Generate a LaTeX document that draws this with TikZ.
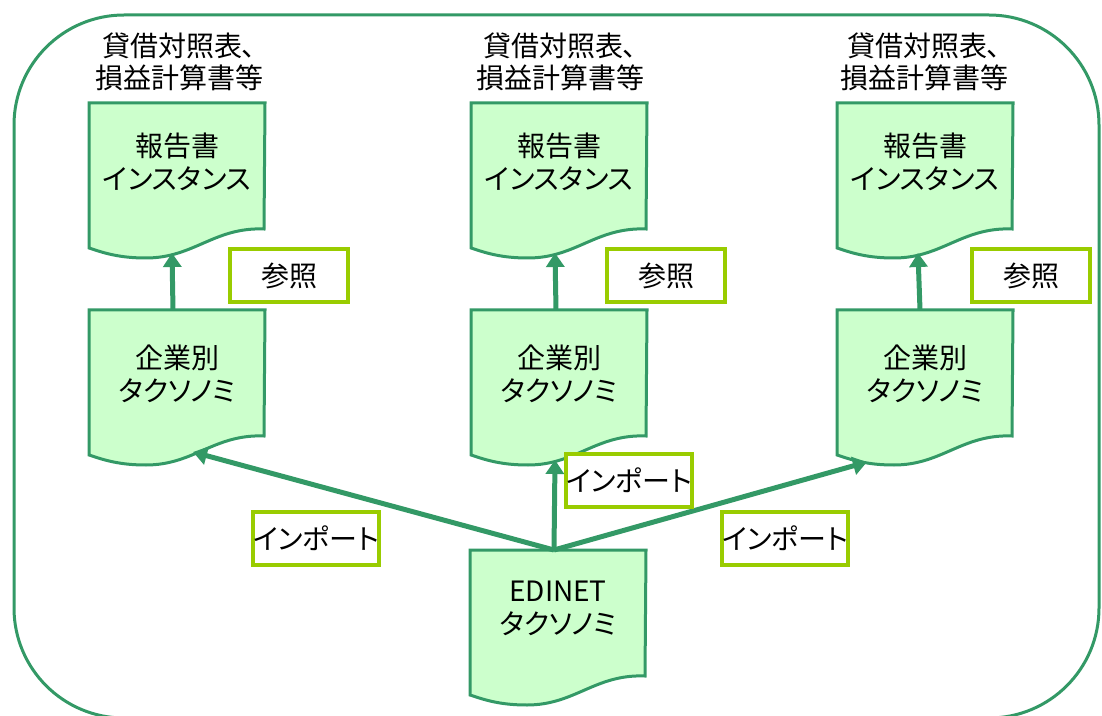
\documentclass[tikz,border=0pt]{standalone}
\usepackage{fontspec}
\setmainfont{Noto Sans CJK JP}[RawFeature=+palt]
\usetikzlibrary{arrows.meta,calc,backgrounds,positioning}

\definecolor{docfill}{RGB}{204,255,204}
\definecolor{docline}{RGB}{51,153,102}
\definecolor{tagline}{RGB}{153,204,0}

\tikzset{every picture/.style={line width=0.75pt}}
\tikzset{
  docnode/.style={minimum width=131.25pt, minimum height=87pt, inner sep=0pt, align=center, anchor=north west, font=\fontsize{21}{24.5}\selectfont},
  docedge/.style={draw=docline, fill=docfill, line width=2.25pt, line join=miter},
  tagbox/.style={draw=tagline, fill=white, line width=3pt, minimum width=88.5pt, minimum height=39.75pt, inner sep=0pt, font=\fontsize{21}{24}\selectfont},
  headtext/.style={align=center, inner sep=0pt, font=\fontsize{21}{23.5}\selectfont},
  imparrow/.style={draw=docline, line width=3.75pt, -{Triangle[width=13.5pt,length=10.5pt]}},
}

\begin{document}
\begin{tikzpicture}[x=0.75pt,y=0.75pt,yscale=-1,xscale=1]
\useasboundingbox (0,0) rectangle (1102,716);

%Rounded Rect 
\draw [draw=docline, line width=2.25pt, rounded corners=82.5pt] (14,15) rectangle (1099,718) ;

% Text Node
\node [headtext] (head1) at (179,62) {貸借対照表、\\損益計算書等};
% Text Node
\node [headtext] (head2) at (560,62) {貸借対照表、\\損益計算書等};
% Text Node
\node [headtext] (head3) at (924,62) {貸借対照表、\\損益計算書等};

% Document Nodes
\node [docnode] (rep1) at (89,103) {報告書\\インスタンス};
\node [docnode] (rep2) at (471,103) {報告書\\インスタンス};
\node [docnode] (rep3) at (837,103) {報告書\\インスタンス};
\node [docnode, minimum height=94.5pt] (tax1) at (89,310) {企業別\\タクソノミ};
\node [docnode, minimum height=94.5pt] (tax2) at (471,310) {企業別\\タクソノミ};
\node [docnode, minimum height=94.5pt] (tax3) at (837,310) {企業別\\タクソノミ};
\node [docnode] (edinet) at (470,550) {EDINET\\タクソノミ};

%Document Shapes 
\begin{scope}[on background layer]
\foreach \n in {rep1,rep2,rep3,tax1,tax2,tax3,edinet}
  \draw [docedge] (\n.north west) -- (\n.north east) -- ($(\n.north west)+(175,126)$)
    .. controls ($(\n.north west)+(125,124)$) and ($(\n.north west)+(105,155)$) .. ($(\n.north west)+(57,155)$)
    .. controls ($(\n.north west)+(30,155)$) and ($(\n.north west)+(15,150)$) .. ($(\n.north west)+(0,145)$) -- cycle ;
\end{scope}

%Straight Lines 
\draw [imparrow] ($(edinet.north)+(-4,0)$) -- ($(tax1.north west)+(104,142)$) ;
\draw [imparrow] ($(edinet.north)+(-4,0)$) -- ($(tax2.north west)+(84,150)$) ;
\draw [imparrow] ($(edinet.north)+(-4,0)$) -- ($(tax3.north west)+(30,152)$) ;
\draw [imparrow] ($(tax1.north)+(-4,0)$) -- ($(rep1.north west)+(83,150)$) ;
\draw [imparrow] ($(tax2.north)+(-3,0)$) -- ($(rep2.north west)+(84,150)$) ;
\draw [imparrow] ($(tax3.north)+(-5,0)$) -- ($(rep3.north west)+(81,150)$) ;

% Text Node
\node [tagbox] (ref1) at (289,276) {参照};
% Text Node
\node [tagbox] (ref2) at (666,276) {参照};
% Text Node
\node [tagbox] (ref3) at (1031,276) {参照};
% Text Node
\node [tagbox] (imp1) at (316,538) {インポート};
% Text Node
\node [tagbox] (imp2) at (629,480) {インポート};
% Text Node
\node [tagbox] (imp3) at (785,538) {インポート};

\end{tikzpicture}
\end{document}
